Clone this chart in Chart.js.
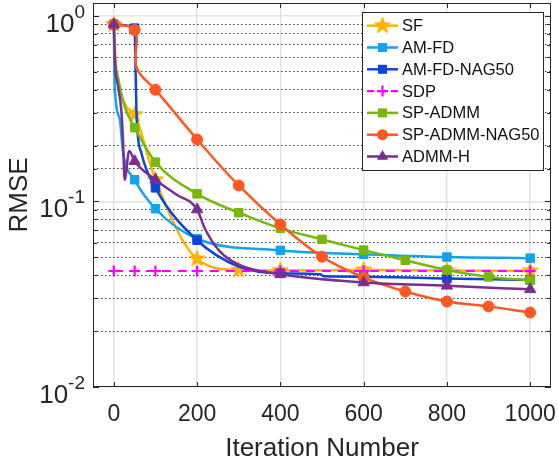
<!DOCTYPE html>
<html>
<head>
<meta charset="utf-8">
<script src="https://cdn.jsdelivr.net/npm/chart.js@4.4.1/dist/chart.umd.min.js"></script>
<style>
  html, body { margin: 0; padding: 0; background: #fff; }
</style>
</head>
<body>
<canvas id="rmseChart" width="558" height="466"></canvas>
<script>
// Axis ticks
const xTicks = [0, 200, 400, 600, 800, 1000];
const yDecades = [1, 0.1, 0.01];
const seriesNames = ['SF', 'AM-FD', 'AM-FD-NAG50', 'SDP', 'SP-ADMM', 'SP-ADMM-NAG50', 'ADMM-H'];

// RMSE vs iteration (marks = iterations that carry a marker)
const sfIter = [0, 6, 14, 30, 50, 100, 200, 300, 400, 600, 800, 1000];
const sfRmse = [0.9, 0.51, 0.40, 0.325, 0.294, 0.131, 0.049, 0.0427, 0.0425, 0.0428, 0.0425, 0.0423];
const sfMarks = [0, 50, 100, 200, 300, 400, 600, 800, 1000];

const amfdIter = [0, 2, 14, 22, 50, 100, 200, 400, 600, 800, 1000];
const amfdRmse = [0.9, 0.42, 0.28, 0.185, 0.131, 0.0914, 0.063, 0.0545, 0.052, 0.0502, 0.0495];
const amfdMarks = [0, 50, 100, 200, 400, 600, 800, 1000];

const amfdNagIter = [0, 50, 52, 55, 66, 100, 200, 300, 400, 495, 505, 600, 800, 1000];
const amfdNagRmse = [0.9, 0.86, 0.55, 0.28, 0.183, 0.1185, 0.0618, 0.0446, 0.041, 0.0405, 0.0395, 0.0393, 0.0384, 0.0377];
const amfdNagMarks = [0, 50, 100, 200, 400, 600, 800, 1000];

const sdpIter = [0, 50, 100, 200, 400, 600, 800, 1000];
const sdpRmse = [0.0422, 0.0422, 0.0422, 0.0422, 0.0422, 0.0422, 0.0422, 0.0422];
const sdpMarks = [0, 50, 100, 200, 400, 600, 800, 1000];

const spIter = [0, 2, 10, 14, 26, 50, 100, 200, 300, 400, 500, 600, 700, 800, 900, 1000];
const spRmse = [0.9, 0.63, 0.47, 0.42, 0.325, 0.25, 0.163, 0.110, 0.087, 0.0716, 0.0625, 0.0547, 0.0482, 0.0427, 0.0392, 0.0376];
const spMarks = [0, 50, 100, 200, 300, 400, 500, 600, 700, 800, 900, 1000];

const spNagIter = [0, 50, 52, 62, 100, 200, 300, 400, 500, 600, 700, 800, 900, 1000];
const spNagRmse = [0.9, 0.84, 0.56, 0.49, 0.40, 0.216, 0.122, 0.0752, 0.0504, 0.039, 0.0327, 0.0289, 0.0272, 0.0252];
const spNagMarks = [0, 50, 100, 200, 300, 400, 500, 600, 700, 800, 900, 1000];

const admmhIter = [0, 3, 10, 18, 22, 26, 37, 50, 100, 150, 200, 218, 254, 300, 400, 600, 800, 1000];
const admmhRmse = [0.9, 0.55, 0.42, 0.31, 0.215, 0.131, 0.187, 0.165, 0.131, 0.109, 0.0905, 0.072, 0.054, 0.0457, 0.0405, 0.0366, 0.0351, 0.0336];
const admmhMarks = [0, 50, 100, 200, 400, 600, 800, 1000];

const FONT = "'Liberation Sans', Arial, sans-serif";
const TEXT = '#262626';

// filled pentagram marker (MATLAB style)
function makeStar(color, r) {
    const c = document.createElement('canvas');
    c.width = c.height = Math.ceil(r * 2 + 4);
    const g = c.getContext('2d');
    const cx = c.width / 2, cy = c.height / 2;
    g.beginPath();
    for (let i = 0; i < 10; i++) {
        const rad = i % 2 === 0 ? r : r * 0.42;
        const a = -Math.PI / 2 + i * Math.PI / 5;
        g.lineTo(cx + rad * Math.cos(a), cy + rad * Math.sin(a));
    }
    g.closePath();
    g.fillStyle = color;
    g.fill();
    g.strokeStyle = color;
    g.lineWidth = 1;
    g.stroke();
    return c;
}

const colors = ['#FFB300', '#12A2EE', '#0A46DC', '#FF00FF', '#77B80A', '#FF5722', '#7A2E91'];
const starImg = makeStar(colors[0], 8.5);

function pts(iter, vals) {
    return iter.map((x, i) => ({ x: x, y: vals[i] }));
}

function series(idx, iter, vals, marks, style, radius, extra) {
    return Object.assign({
        label: seriesNames[idx],
        data: pts(iter, vals),
        borderColor: colors[idx],
        backgroundColor: colors[idx],
        borderWidth: 2.5,
        pointStyle: style,
        pointRadius: c => marks.includes(c.raw.x) ? radius : 0,
        pointHoverRadius: 0,
        pointBorderWidth: 1,
        pointBorderColor: colors[idx],
        pointBackgroundColor: colors[idx],
        cubicInterpolationMode: 'monotone',
        order: 7 - idx
    }, extra || {});
}

const datasets = [
    series(0, sfIter, sfRmse, sfMarks, starImg, 8),
    series(1, amfdIter, amfdRmse, amfdMarks, 'rect', 6),
    series(2, amfdNagIter, amfdNagRmse, amfdNagMarks, 'rect', 6),
    series(3, sdpIter, sdpRmse, sdpMarks, 'cross', 5.5, { borderDash: [9, 7], pointBorderWidth: 2.2, borderWidth: 2.2 }),
    series(4, spIter, spRmse, spMarks, 'rect', 6),
    series(5, spNagIter, spNagRmse, spNagMarks, 'circle', 5.5, { cubicInterpolationMode: 'default', tension: 0.4 }),
    series(6, admmhIter, admmhRmse, admmhMarks, 'triangle', 6.5)
];

function isDecade(v) {
    const l = Math.log10(v);
    return Math.abs(l - Math.round(l)) < 1e-6;
}

function drawMarker(g, idx, x, y) {
    const c = colors[idx];
    g.fillStyle = c; g.strokeStyle = c;
    if (idx === 0) {
        g.drawImage(starImg, x - starImg.width / 2, y - starImg.height / 2);
    } else if (idx === 1 || idx === 2 || idx === 4) {
        g.fillRect(x - 4.5, y - 4.5, 9, 9);
    } else if (idx === 3) {
        g.lineWidth = 2.2; g.setLineDash([]);
        g.beginPath();
        g.moveTo(x - 5.5, y); g.lineTo(x + 5.5, y);
        g.moveTo(x, y - 5.5); g.lineTo(x, y + 5.5);
        g.stroke();
    } else if (idx === 5) {
        g.beginPath(); g.arc(x, y, 5.5, 0, Math.PI * 2); g.fill();
    } else {
        g.beginPath();
        g.moveTo(x, y - 6.5); g.lineTo(x + 5.6, y + 3.3); g.lineTo(x - 5.6, y + 3.3);
        g.closePath(); g.fill();
    }
}

const frame = {
    id: 'frame',
    afterDraw(chart) {
        const { ctx, chartArea: a, scales } = chart;
        const xs = scales.x, ys = scales.y;
        ctx.save();
        // box and inward ticks
        ctx.strokeStyle = TEXT;
        ctx.lineWidth = 1;
        ctx.setLineDash([]);
        ctx.strokeRect(a.left + 0.5, a.top + 0.5, a.right - a.left - 1, a.bottom - a.top - 1);
        ctx.beginPath();
        xs.ticks.forEach(t => {
            const px = Math.round(xs.getPixelForValue(t.value)) + 0.5;
            ctx.moveTo(px, a.bottom); ctx.lineTo(px, a.bottom - 5);
            ctx.moveTo(px, a.top); ctx.lineTo(px, a.top + 5);
        });
        ys.ticks.forEach(t => {
            if (t.value >= ys.max - 1e-9) return;
            const py = Math.round(ys.getPixelForValue(t.value)) + 0.5;
            const len = isDecade(t.value) ? 6 : 4;
            ctx.moveTo(a.left, py); ctx.lineTo(a.left + len, py);
            ctx.moveTo(a.right, py); ctx.lineTo(a.right - len, py);
        });
        ctx.stroke();

        // y decade labels 10^k
        ctx.fillStyle = TEXT;
        ctx.textBaseline = 'alphabetic';
        ctx.textAlign = 'left';
        yDecades.forEach(v => {
            const py = ys.getPixelForValue(v);
            const exp = String(Math.round(Math.log10(v)));
            ctx.font = '19px ' + FONT;
            const ew = ctx.measureText(exp).width;
            ctx.font = '26px ' + FONT;
            const bw = ctx.measureText('10').width;
            const right = a.left - 8;
            ctx.fillText('10', right - ew - bw, py + 16);
            ctx.font = '19px ' + FONT;
            ctx.fillText(exp, right - ew, py + 2);
        });

        // legend
        const lx = 362, ly = 12, lw = 181, lh = 158;
        ctx.fillStyle = '#fff';
        ctx.fillRect(lx, ly, lw, lh);
        ctx.strokeStyle = TEXT;
        ctx.lineWidth = 1;
        ctx.strokeRect(lx + 0.5, ly + 0.5, lw, lh);
        ctx.font = '16.5px ' + FONT;
        ctx.textBaseline = 'middle';
        seriesNames.forEach((name, i) => {
            const cy = 25.7 + i * 21.8;
            ctx.strokeStyle = colors[i];
            ctx.lineWidth = i === 3 ? 2.2 : 2.5;
            ctx.setLineDash(i === 3 ? [7, 5] : []);
            ctx.beginPath();
            ctx.moveTo(367, cy); ctx.lineTo(398, cy);
            ctx.stroke();
            ctx.setLineDash([]);
            drawMarker(ctx, i, 382.5, cy);
            ctx.fillStyle = '#111';
            ctx.fillText(name, 402, cy + 1);
        });
        ctx.restore();
    }
};

window.onload = function() {
    const ctx = document.getElementById('rmseChart').getContext('2d');
    new Chart(ctx, {
        type: 'line',
        data: { datasets: datasets },
        plugins: [frame],
        options: {
            responsive: false,
            animation: false,
            layout: { autoPadding: false, padding: { top: 3, right: 7, left: 0, bottom: 0 } },
            plugins: {
                legend: { display: false },
                tooltip: { enabled: false }
            },
            scales: {
                x: {
                    type: 'linear',
                    min: -50,
                    max: 1050,
                    afterBuildTicks: s => { s.ticks = xTicks.map(v => ({ value: v })); },
                    afterFit: s => { s.height = 79; s.paddingLeft = 0; s.paddingRight = 0; },
                    grid: { color: '#e3e3e3', lineWidth: 1.5, drawTicks: false },
                    border: { display: false },
                    ticks: {
                        color: TEXT,
                        padding: 14,
                        maxRotation: 0,
                        callback: v => String(v),
                        font: { family: FONT, size: 23 }
                    },
                    title: {
                        display: true,
                        text: 'Iteration Number',
                        color: TEXT,
                        font: { family: FONT, size: 26 },
                        padding: { top: 0, bottom: 2 }
                    }
                },
                y: {
                    type: 'logarithmic',
                    min: 0.01,
                    max: 1.175,
                    afterFit: s => { s.width = 93; s.paddingTop = 0; s.paddingBottom = 0; },
                    grid: {
                        drawTicks: false,
                        color: c => (c.tick && !isDecade(c.tick.value)) ? '#3c3c3c' : '#e3e3e3',
                        lineWidth: c => (c.tick && !isDecade(c.tick.value)) ? 1 : 1.5
                    },
                    border: {
                        display: false,
                        dash: c => (c.tick && !isDecade(c.tick.value)) ? [1.5, 2.5] : []
                    },
                    ticks: { display: false },
                    title: {
                        display: true,
                        text: 'RMSE',
                        color: TEXT,
                        font: { family: FONT, size: 26 },
                        padding: { top: 4, bottom: 0 }
                    }
                }
            }
        }
    });
};
</script>
</body>
</html>
